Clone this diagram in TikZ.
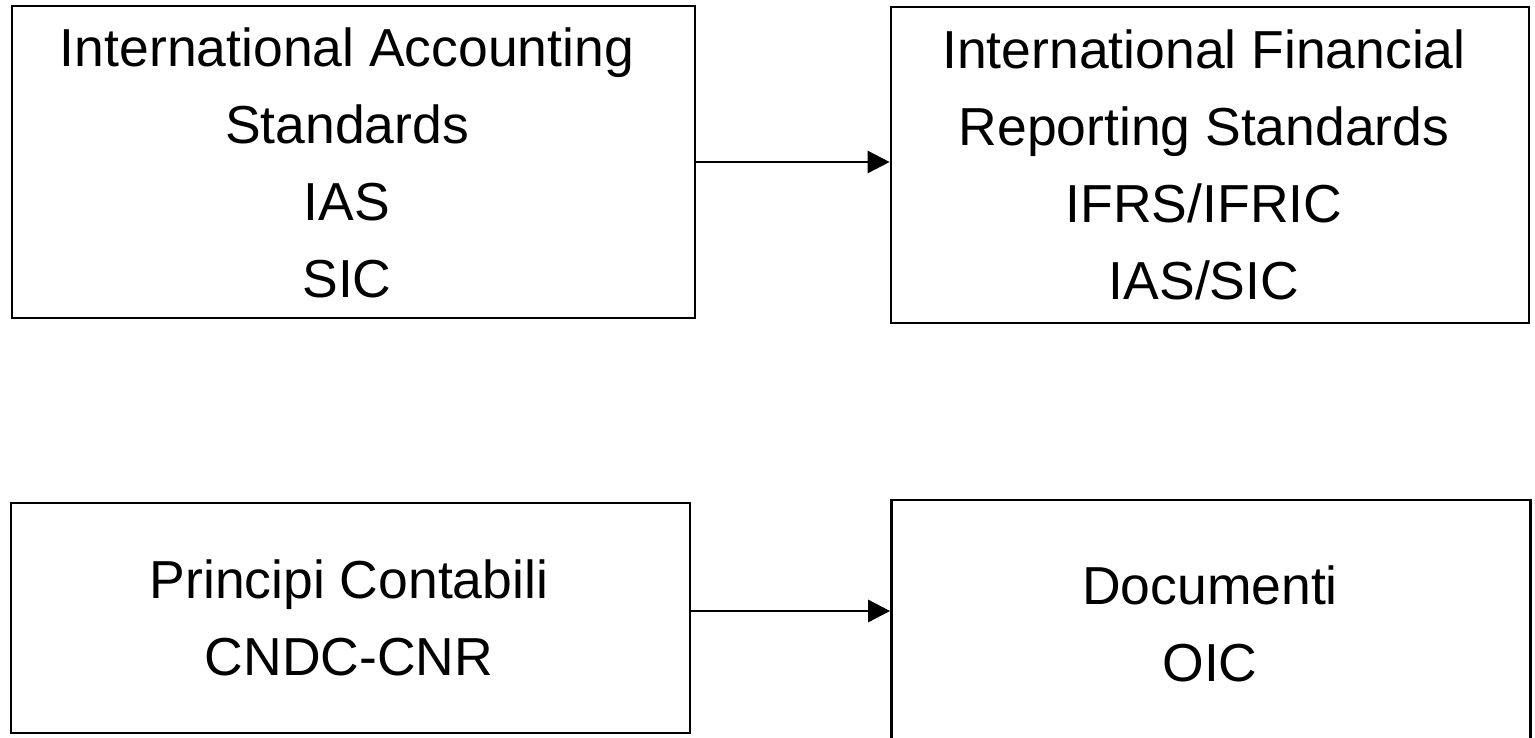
\documentclass[tikz,border=0pt]{standalone}
\usepackage{fontspec}
\setmainfont{Liberation Sans}
\usetikzlibrary{arrows.meta}
\begin{document}
\begin{tikzpicture}[x=1pt,y=-1pt,
  box/.style={draw=black,line width=2.7pt,inner sep=0pt},
  txt/.style={align=center,inner sep=0pt,font=\fontsize{53.5}{77}\selectfont},
  conn/.style={line width=2.7pt,-{Triangle[length=22pt,width=22pt]}}]
\useasboundingbox (0,0) rectangle (1535,738);
\node[box,minimum width=683pt,minimum height=312pt] (ias) at (353.5,162) {};
\node[txt] (iast) at (347,163) {International Accounting\\Standards\\IAS\\SIC};
\node[box,minimum width=638pt,minimum height=316pt] (ifrs) at (1210,165) {};
\node[txt] (ifrst) at (1204,165) {International Financial\\Reporting Standards\\IFRS/IFRIC\\IAS/SIC};
\node[box,minimum width=679pt,minimum height=230pt] (pc) at (350.5,618) {};
\node[txt] (pct) at (349,618) {Principi Contabili\\CNDC-CNR};
\node[box,minimum width=639pt,minimum height=250pt] (doc) at (1211,625) {};
\node[txt] (doct) at (1210,624) {Documenti\\OIC};
\draw[conn] (ias.east) -- (ias.east -| ifrs.west);
\draw[conn] ([yshift=7pt]pc.east) -- ([yshift=7pt]pc.east -| doc.west);
\end{tikzpicture}
\end{document}
